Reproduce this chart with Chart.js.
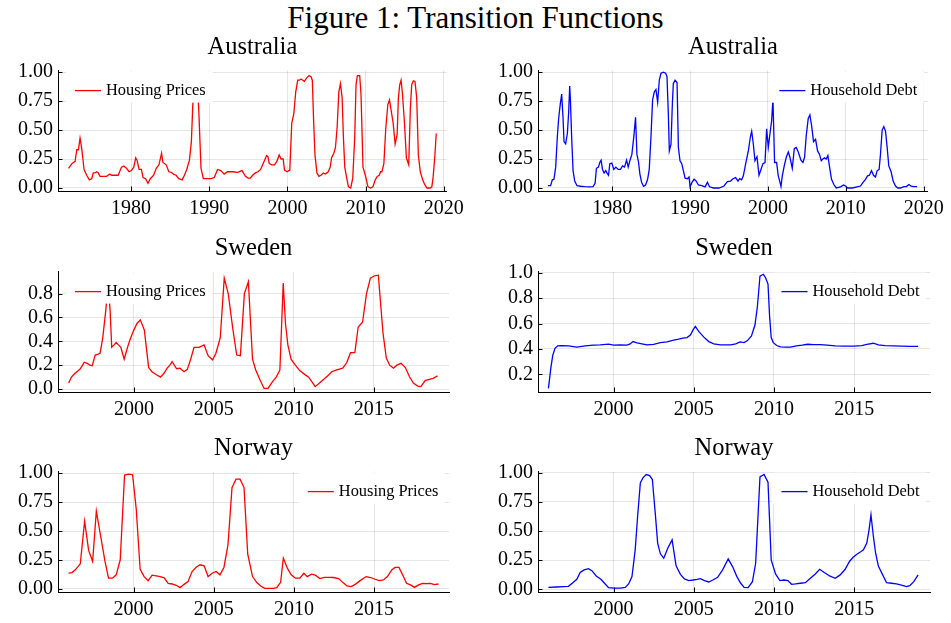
<!DOCTYPE html>
<html>
<head>
<meta charset="utf-8">
<title>Transition Functions</title>
<script src="https://cdn.jsdelivr.net/npm/chart.js@4.4.1/dist/chart.umd.min.js"></script>
<style>
	body { margin: 0; background: #fff; width: 951px; height: 623px; overflow: hidden; position: relative; }
	#fig-title { position: absolute; left: 0; top: 0; width: 951px; text-align: center; font: 31px/36px "Liberation Serif", "Times New Roman", serif; color: #000; }
	canvas { position: absolute; }
</style>
</head>
<body>
<div id="fig-title">Figure 1: Transition Functions</div>
<canvas id="au-house" width="470" height="200"></canvas>
<canvas id="au-debt" width="470" height="200"></canvas>
<canvas id="se-house" width="470" height="200"></canvas>
<canvas id="se-debt" width="470" height="200"></canvas>
<canvas id="no-house" width="470" height="200"></canvas>
<canvas id="no-debt" width="470" height="200"></canvas>
<script>
// Australia, housing prices
let auHouseYears = [1972.0, 1972.42, 1972.63, 1972.84, 1973.05, 1973.26, 1973.47, 1973.69, 1973.98, 1974.32, 1974.66, 1974.96,
	1975.17, 1975.38, 1975.59, 1975.81, 1976.02, 1976.44, 1976.86, 1977.29, 1977.5, 1977.92, 1978.35, 1978.77, 1979.07,
	1979.41, 1979.75, 1980.04, 1980.34, 1980.59, 1980.76, 1981.02, 1981.31, 1981.53, 1981.86, 1982.16, 1982.46, 1982.88,
	1983.22, 1983.56, 1983.9, 1984.07, 1984.49, 1984.83, 1985.13, 1985.42, 1985.76, 1986.1, 1986.53, 1986.82, 1987.12,
	1987.46, 1987.71, 1987.88, 1988.1, 1988.35, 1988.64, 1988.94, 1989.24, 1989.58, 1990.21, 1990.64, 1991.06, 1991.48,
	1991.91, 1992.33, 1992.97, 1993.6, 1994.19, 1994.62, 1994.96, 1995.25, 1995.55, 1995.89, 1996.23, 1996.57, 1996.82,
	1997.08, 1997.33, 1997.5, 1997.67, 1998.01, 1998.35, 1998.64, 1998.94, 1999.19, 1999.45, 1999.62, 1999.96, 2000.3,
	2000.55, 2000.81, 2001.06, 2001.31, 2001.53, 2001.74, 2001.95, 2002.16, 2002.46, 2002.75, 2003.01, 2003.18, 2003.35,
	2003.52, 2003.77, 2004.03, 2004.28, 2004.58, 2004.87, 2005.21, 2005.47, 2005.64, 2005.93, 2006.14, 2006.36, 2006.57,
	2006.78, 2006.99, 2007.16, 2007.33, 2007.58, 2007.8, 2008.09, 2008.35, 2008.6, 2008.77, 2008.94, 2009.24, 2009.41,
	2009.66, 2009.96, 2010.3, 2010.64, 2010.93, 2011.23, 2011.48, 2011.74, 2011.91, 2012.08, 2012.33, 2012.58, 2012.84,
	2013.05, 2013.26, 2013.52, 2013.77, 2014.03, 2014.19, 2014.36, 2014.53, 2014.7, 2014.96, 2015.21, 2015.51, 2015.72,
	2015.89, 2016.1, 2016.31, 2016.53, 2016.74, 2016.99, 2017.29, 2017.58, 2017.84, 2018.26, 2018.47, 2018.64, 2018.86, 2019.03];
let auHouseValues = [0.17, 0.21, 0.22, 0.23, 0.33, 0.33, 0.43, 0.34, 0.16, 0.11, 0.07, 0.08,
	0.13, 0.13, 0.14, 0.13, 0.10, 0.10, 0.10, 0.12, 0.11, 0.11, 0.11, 0.18, 0.19,
	0.17, 0.14, 0.15, 0.18, 0.26, 0.24, 0.16, 0.16, 0.09, 0.08, 0.04, 0.08, 0.11,
	0.17, 0.20, 0.30, 0.22, 0.20, 0.14, 0.135, 0.12, 0.11, 0.08, 0.07, 0.11, 0.16,
	0.24, 0.40, 0.70, 0.97, 0.98, 0.70, 0.17, 0.08, 0.08, 0.08, 0.09, 0.16, 0.15,
	0.12, 0.14, 0.14, 0.135, 0.15, 0.10, 0.085, 0.085, 0.11, 0.13, 0.14, 0.16, 0.20,
	0.24, 0.28, 0.27, 0.21, 0.20, 0.20, 0.23, 0.285, 0.25, 0.25, 0.155, 0.14, 0.155,
	0.56, 0.64, 0.83, 0.93, 0.93, 0.94, 0.93, 0.92, 0.95, 0.97, 0.96, 0.93, 0.57,
	0.285, 0.13, 0.10, 0.11, 0.13, 0.12, 0.14, 0.18, 0.26, 0.30, 0.35, 0.53, 0.83,
	0.90, 0.78, 0.43, 0.18, 0.085, 0.01, 0.00, 0.085, 0.43, 0.89, 0.97, 0.97, 0.80,
	0.18, 0.11, 0.01, 0.00, 0.01, 0.07, 0.10, 0.11, 0.14, 0.14, 0.21, 0.52, 0.72,
	0.76, 0.67, 0.56, 0.38, 0.46, 0.78, 0.89, 0.93, 0.82, 0.57, 0.26, 0.20, 0.69,
	0.89, 0.925, 0.92, 0.78, 0.285, 0.14, 0.07, 0.026, 0.00, 0.00, 0.01, 0.10, 0.285, 0.47];

// Australia, household debt
let auDebtYears = [1971.76, 1972.1, 1972.32, 1972.53, 1972.75, 1972.96, 1973.13, 1973.35, 1973.52, 1973.69, 1973.82, 1974.03,
	1974.25, 1974.42, 1974.55, 1974.64, 1974.81, 1974.98, 1975.19, 1975.49, 1975.92, 1976.48, 1977.04, 1977.55, 1977.81,
	1977.98, 1978.24, 1978.41, 1978.58, 1978.76, 1978.97, 1979.18, 1979.36, 1979.53, 1979.7, 1979.96, 1980.21, 1980.47,
	1980.77, 1981.07, 1981.33, 1981.59, 1981.85, 1982.06, 1982.27, 1982.53, 1982.79, 1983.0, 1983.18, 1983.39, 1983.56,
	1983.78, 1984.03, 1984.29, 1984.55, 1984.76, 1984.98, 1985.19, 1985.41, 1985.62, 1985.84, 1986.05, 1986.27, 1986.57,
	1986.87, 1987.04, 1987.21, 1987.34, 1987.55, 1987.73, 1987.85, 1988.07, 1988.33, 1988.5, 1988.71, 1988.93, 1989.14,
	1989.36, 1989.66, 1989.87, 1990.0, 1990.26, 1990.52, 1990.77, 1991.07, 1991.5, 1991.93, 1992.23, 1992.49, 1993.0,
	1993.72, 1994.36, 1994.79, 1995.21, 1995.51, 1995.85, 1996.15, 1996.37, 1996.62, 1996.84, 1997.14, 1997.48, 1997.74,
	1997.91, 1998.12, 1998.33, 1998.59, 1998.85, 1999.1, 1999.36, 1999.62, 1999.83, 2000.04, 2000.26, 2000.47, 2000.64,
	2000.85, 2001.11, 2001.32, 2001.54, 2001.67, 2001.84, 2002.09, 2002.35, 2002.61, 2002.82, 2003.12, 2003.38, 2003.63,
	2003.89, 2004.23, 2004.49, 2004.7, 2004.91, 2005.17, 2005.38, 2005.6, 2005.85, 2006.11, 2006.37, 2006.62, 2006.84,
	2007.05, 2007.26, 2007.48, 2007.69, 2007.91, 2008.16, 2008.46, 2008.76, 2009.32, 2009.7, 2009.96, 2010.21, 2010.81,
	2011.45, 2011.88, 2012.18, 2012.52, 2012.78, 2013.03, 2013.29, 2013.55, 2013.8, 2014.02, 2014.27, 2014.44, 2014.66,
	2014.87, 2015.09, 2015.3, 2015.51, 2015.81, 2016.07, 2016.37, 2016.67, 2017.01, 2017.44, 2017.78, 2018.08, 2018.38,
	2018.72, 2019.15];
let auDebtValues = [0.02, 0.02, 0.07, 0.075, 0.18, 0.44, 0.60, 0.73, 0.81, 0.61, 0.40, 0.38,
	0.47, 0.66, 0.88, 0.76, 0.42, 0.15, 0.06, 0.02, 0.015, 0.012, 0.01, 0.012, 0.04,
	0.17, 0.18, 0.22, 0.24, 0.16, 0.13, 0.15, 0.125, 0.11, 0.21, 0.215, 0.16, 0.18,
	0.16, 0.16, 0.19, 0.18, 0.24, 0.18, 0.235, 0.29, 0.45, 0.61, 0.29, 0.22, 0.12,
	0.05, 0.015, 0.026, 0.075, 0.16, 0.44, 0.76, 0.83, 0.85, 0.74, 0.93, 0.99, 1.00,
	0.99, 0.96, 0.64, 0.32, 0.375, 0.73, 0.90, 0.93, 0.91, 0.35, 0.235, 0.21, 0.15,
	0.085, 0.08, 0.095, 0.01, 0.05, 0.075, 0.06, 0.026, 0.02, 0.01, 0.05, 0.01, 0.00,
	0.00, 0.017, 0.055, 0.06, 0.08, 0.09, 0.06, 0.08, 0.07, 0.105, 0.21, 0.32, 0.44,
	0.49, 0.38, 0.235, 0.27, 0.11, 0.16, 0.21, 0.22, 0.51, 0.35, 0.47, 0.58, 0.765,
	0.22, 0.22, 0.105, 0.05, 0.012, 0.105, 0.19, 0.265, 0.31, 0.265, 0.17, 0.34, 0.35,
	0.31, 0.24, 0.22, 0.265, 0.45, 0.60, 0.63, 0.54, 0.40, 0.42, 0.32, 0.29, 0.235,
	0.25, 0.26, 0.25, 0.28, 0.18, 0.075, 0.03, 0.00, 0.01, 0.026, 0.017, 0.00, 0.00,
	0.01, 0.017, 0.047, 0.075, 0.105, 0.11, 0.15, 0.11, 0.095, 0.15, 0.16, 0.29, 0.50,
	0.53, 0.49, 0.35, 0.19, 0.14, 0.06, 0.017, 0.00, 0.00, 0.012, 0.012, 0.03, 0.017,
	0.012, 0.012];

// Sweden, housing prices
let seHouseYears = [1995.92, 1996.09, 1996.3, 1996.47, 1996.62, 1996.79, 1996.89, 1997.08, 1997.25, 1997.39, 1997.58, 1997.73,
	1997.88, 1998.05, 1998.24, 1998.38, 1998.51, 1998.61, 1998.76, 1998.89, 1999.03, 1999.18, 1999.39, 1999.6, 1999.77,
	1999.98, 2000.19, 2000.4, 2000.65, 2000.92, 2001.13, 2001.41, 2001.66, 2001.87, 2002.08, 2002.25, 2002.39, 2002.67,
	2002.88, 2003.13, 2003.34, 2003.55, 2003.76, 2004.08, 2004.39, 2004.64, 2004.92, 2005.13, 2005.4, 2005.65, 2005.9,
	2006.18, 2006.43, 2006.66, 2006.91, 2007.16, 2007.31, 2007.42, 2007.62, 2007.89, 2008.14, 2008.39, 2008.66, 2008.9,
	2009.13, 2009.34, 2009.48, 2009.63, 2009.83, 2010.1, 2010.37, 2010.66, 2010.93, 2011.14, 2011.34, 2011.61, 2011.86,
	2012.11, 2012.38, 2012.69, 2013.06, 2013.31, 2013.55, 2013.82, 2014.03, 2014.3, 2014.55, 2014.79, 2015.06, 2015.29,
	2015.58, 2015.79, 2016.0, 2016.24, 2016.45, 2016.71, 2016.98, 2017.23, 2017.48, 2017.75, 2017.95, 2018.22, 2018.47,
	2018.72, 2018.99];
let seHouseValues = [0.05, 0.10, 0.13, 0.15, 0.165, 0.20, 0.225, 0.215, 0.20, 0.195, 0.285, 0.29,
	0.30, 0.43, 0.66, 0.88, 0.66, 0.35, 0.37, 0.39, 0.37, 0.35, 0.25, 0.35, 0.42,
	0.49, 0.55, 0.58, 0.495, 0.18, 0.145, 0.12, 0.10, 0.13, 0.175, 0.20, 0.23, 0.17,
	0.175, 0.145, 0.165, 0.25, 0.35, 0.35, 0.37, 0.28, 0.245, 0.30, 0.43, 0.93, 0.80,
	0.51, 0.285, 0.28, 0.80, 0.90, 0.52, 0.25, 0.16, 0.075, 0.005, 0.005, 0.06, 0.10,
	0.16, 0.89, 0.55, 0.37, 0.25, 0.20, 0.155, 0.125, 0.10, 0.06, 0.02, 0.05, 0.08,
	0.11, 0.145, 0.16, 0.175, 0.22, 0.305, 0.305, 0.52, 0.56, 0.80, 0.93, 0.95, 0.955,
	0.47, 0.26, 0.20, 0.175, 0.20, 0.215, 0.18, 0.105, 0.05, 0.025, 0.02, 0.07, 0.08,
	0.09, 0.11];

// Sweden, household debt
let seDebtYears = [1995.94, 1996.1, 1996.21, 1996.35, 1996.52, 1996.77, 1997.19, 1997.71, 1998.23, 1998.75, 1999.17, 1999.69,
	2000.0, 2000.42, 2000.83, 2001.04, 2001.21, 2001.46, 2001.77, 2002.08, 2002.5, 2002.92, 2003.33, 2003.75, 2004.06,
	2004.33, 2004.58, 2004.79, 2004.96, 2005.1, 2005.31, 2005.63, 2005.94, 2006.25, 2006.67, 2007.31, 2007.62, 2007.89,
	2008.14, 2008.35, 2008.6, 2008.82, 2008.97, 2009.13, 2009.34, 2009.48, 2009.63, 2009.73, 2009.83, 2009.96, 2010.17,
	2010.41, 2010.72, 2011.03, 2011.4, 2011.76, 2012.11, 2012.48, 2012.89, 2013.31, 2013.82, 2014.34, 2014.96, 2015.48,
	2015.79, 2016.2, 2016.51, 2016.92, 2017.44, 2017.96, 2018.47, 2018.99];
let seDebtValues = [0.09, 0.26, 0.35, 0.405, 0.425, 0.427, 0.425, 0.414, 0.425, 0.43, 0.432, 0.438,
	0.43, 0.432, 0.43, 0.44, 0.458, 0.448, 0.44, 0.432, 0.437, 0.45, 0.455, 0.47, 0.477,
	0.485, 0.49, 0.51, 0.55, 0.577, 0.538, 0.493, 0.458, 0.44, 0.433, 0.432, 0.44, 0.455,
	0.45, 0.466, 0.503, 0.59, 0.736, 0.973, 0.987, 0.96, 0.91, 0.656, 0.49, 0.45, 0.427,
	0.416, 0.414, 0.414, 0.424, 0.43, 0.437, 0.435, 0.435, 0.43, 0.424, 0.422, 0.422, 0.427,
	0.437, 0.445, 0.432, 0.427, 0.424, 0.422, 0.42, 0.42];

// Norway, housing prices
let noHouseYears = [1995.95, 1996.16, 1996.37, 1996.68, 1996.95, 1997.2, 1997.45, 1997.68, 1997.97, 1998.22, 1998.44, 1998.69,
	1998.92, 1999.17, 1999.44, 1999.69, 1999.94, 2000.17, 2000.41, 2000.66, 2000.91, 2001.16, 2001.41, 2001.66, 2001.91,
	2002.16, 2002.41, 2002.66, 2002.9, 2003.15, 2003.4, 2003.65, 2003.9, 2004.15, 2004.4, 2004.65, 2004.9, 2005.15,
	2005.39, 2005.64, 2005.89, 2006.14, 2006.39, 2006.64, 2006.89, 2007.12, 2007.42, 2007.69, 2007.93, 2008.18, 2008.45,
	2008.72, 2008.93, 2009.17, 2009.34, 2009.59, 2009.83, 2010.1, 2010.37, 2010.62, 2010.83, 2011.1, 2011.34, 2011.61,
	2011.9, 2012.17, 2012.48, 2012.79, 2013.06, 2013.31, 2013.57, 2013.82, 2014.13, 2014.5, 2014.79, 2015.06, 2015.33,
	2015.58, 2015.83, 2016.1, 2016.3, 2016.55, 2016.78, 2017.02, 2017.27, 2017.52, 2017.77, 2018.02, 2018.26, 2018.51,
	2018.76, 2019.01];
let noHouseValues = [0.136, 0.142, 0.165, 0.217, 0.585, 0.333, 0.238, 0.672, 0.44, 0.238, 0.093, 0.093,
	0.122, 0.252, 0.983, 0.991, 0.986, 0.687, 0.171, 0.107, 0.072, 0.119, 0.113, 0.107, 0.096,
	0.049, 0.043, 0.032, 0.012, 0.04, 0.064, 0.151, 0.188, 0.209, 0.20, 0.107, 0.136, 0.151,
	0.122, 0.188, 0.383, 0.875, 0.948, 0.948, 0.875, 0.30, 0.107, 0.055, 0.026, 0.006, 0.006,
	0.006, 0.012, 0.058, 0.267, 0.18, 0.122, 0.093, 0.093, 0.136, 0.107, 0.128, 0.119, 0.09,
	0.10, 0.10, 0.099, 0.09, 0.055, 0.026, 0.02, 0.04, 0.072, 0.107, 0.099, 0.084, 0.072,
	0.078, 0.107, 0.165, 0.186, 0.186, 0.122, 0.049, 0.035, 0.014, 0.035, 0.049, 0.046, 0.049,
	0.038, 0.043];

// Norway, household debt
let noDebtYears = [1995.94, 1996.46, 1996.88, 1997.19, 1997.46, 1997.71, 1997.92, 1998.17, 1998.44, 1998.65, 1998.92, 1999.21,
	1999.48, 1999.69, 2000.0, 2000.42, 2000.73, 2000.94, 2001.15, 2001.35, 2001.5, 2001.67, 2001.83, 2002.04, 2002.25,
	2002.42, 2002.6, 2002.75, 2002.92, 2003.13, 2003.38, 2003.65, 2003.9, 2004.17, 2004.42, 2004.69, 2004.96, 2005.21,
	2005.42, 2005.67, 2005.94, 2006.19, 2006.49, 2006.8, 2007.15, 2007.42, 2007.69, 2007.93, 2008.14, 2008.39, 2008.66,
	2008.86, 2009.13, 2009.38, 2009.63, 2009.83, 2010.1, 2010.37, 2010.62, 2010.87, 2011.1, 2011.34, 2011.65, 2011.96,
	2012.27, 2012.58, 2012.85, 2013.14, 2013.47, 2013.82, 2014.13, 2014.44, 2014.71, 2014.92, 2015.17, 2015.41, 2015.58,
	2015.79, 2015.93, 2016.05, 2016.2, 2016.34, 2016.51, 2016.78, 2017.02, 2017.33, 2017.64, 2017.95, 2018.26, 2018.47,
	2018.72, 2018.99];
let noDebtValues = [0.017, 0.02, 0.023, 0.026, 0.057, 0.086, 0.144, 0.167, 0.178, 0.16, 0.115, 0.086,
	0.046, 0.014, 0.011, 0.011, 0.017, 0.046, 0.109, 0.339, 0.626, 0.914, 0.957, 0.986, 0.977,
	0.943, 0.655, 0.397, 0.305, 0.267, 0.353, 0.425, 0.201, 0.129, 0.089, 0.075, 0.08, 0.086,
	0.092, 0.075, 0.063, 0.08, 0.103, 0.167, 0.261, 0.195, 0.109, 0.052, 0.017, 0.014, 0.066,
	0.224, 0.966, 0.986, 0.92, 0.253, 0.132, 0.075, 0.08, 0.075, 0.043, 0.046, 0.052, 0.057,
	0.095, 0.132, 0.172, 0.144, 0.115, 0.095, 0.124, 0.172, 0.239, 0.273, 0.302, 0.322, 0.339,
	0.397, 0.511, 0.641, 0.454, 0.31, 0.201, 0.124, 0.057, 0.052, 0.046, 0.037, 0.023, 0.032,
	0.066, 0.124];

// tick positions and labels
let decadeTicks = [1980, 1990, 2000, 2010, 2020];
let fiveYearTicks = [2000, 2005, 2010, 2015];
let quarterTicks = [0, 0.25, 0.5, 0.75, 1];
let quarterLabels = ['0.00', '0.25', '0.50', '0.75', '1.00'];
let fifthTicks = [0, 0.2, 0.4, 0.6, 0.8];
let fifthLabels = ['0.0', '0.2', '0.4', '0.6', '0.8'];
let upperFifthTicks = [0.2, 0.4, 0.6, 0.8, 1];
let upperFifthLabels = ['0.2', '0.4', '0.6', '0.8', '1.0'];

const serif = '"Liberation Serif", "Times New Roman", serif';
const red = '#ff0000';
const blue = '#0000ff';

let panels = [
	{ id: 'au-house', left: 0, top: 30, rightPad: 21, title: 'Australia', label: 'Housing Prices', color: red,
		years: auHouseYears, values: auHouseValues, xRange: [1970.65, 2020.37], yRange: [-0.026, 1.013],
		xTicks: decadeTicks, yTicks: quarterTicks, yLabels: quarterLabels, legendSide: 'left' },
	{ id: 'au-debt', left: 480, top: 30, rightPad: 20, title: 'Australia', label: 'Household Debt', color: blue,
		years: auDebtYears, values: auDebtValues, xRange: [1970.48, 2020.52], yRange: [-0.026, 1.013],
		xTicks: decadeTicks, yTicks: quarterTicks, yLabels: quarterLabels, legendSide: 'right' },
	{ id: 'se-house', left: 0, top: 231, rightPad: 21, title: 'Sweden', label: 'Housing Prices', color: red,
		years: seHouseYears, values: seHouseValues, xRange: [1995.25, 2019.71], yRange: [-0.025, 0.985],
		xTicks: fiveYearTicks, yTicks: fifthTicks, yLabels: fifthLabels, legendSide: 'left' },
	{ id: 'se-debt', left: 480, top: 231, rightPad: 20, title: 'Sweden', label: 'Household Debt', color: blue,
		years: seDebtYears, values: seDebtValues, xRange: [1995.29, 2019.73], yRange: [0.062, 1.008],
		xTicks: fiveYearTicks, yTicks: upperFifthTicks, yLabels: upperFifthLabels, legendSide: 'right' },
	{ id: 'no-house', left: 0, top: 431, rightPad: 21, title: 'Norway', label: 'Housing Prices', color: red,
		years: noHouseYears, values: noHouseValues, xRange: [1995.29, 2019.67], yRange: [-0.026, 1.013],
		xTicks: fiveYearTicks, yTicks: quarterTicks, yLabels: quarterLabels, legendSide: 'right' },
	{ id: 'no-debt', left: 480, top: 431, rightPad: 20, title: 'Norway', label: 'Household Debt', color: blue,
		years: noDebtYears, values: noDebtValues, xRange: [1995.29, 2019.73], yRange: [-0.023, 1.011],
		xTicks: fiveYearTicks, yTicks: quarterTicks, yLabels: quarterLabels, legendSide: 'right' }
];

// short tick marks pointing into the plot area
const innerTicks = {
	id: 'innerTicks',
	beforeDatasetsDraw(chart) {
		const { ctx, chartArea, scales } = chart;
		ctx.save();
		ctx.strokeStyle = '#000';
		ctx.lineWidth = 1;
		ctx.beginPath();
		scales.x.ticks.forEach((t) => {
			let px = Math.round(scales.x.getPixelForValue(t.value)) + 0.5;
			ctx.moveTo(px, chartArea.bottom);
			ctx.lineTo(px, chartArea.bottom - 4.5);
		});
		scales.y.ticks.forEach((t) => {
			let py = Math.round(scales.y.getPixelForValue(t.value)) + 0.5;
			ctx.moveTo(chartArea.left, py);
			ctx.lineTo(chartArea.left + 4.5, py);
		});
		ctx.stroke();
		ctx.restore();
	}
};

// legend box drawn inside the plot area, over the line
const insideLegend = {
	id: 'insideLegend',
	afterDatasetsDraw(chart, args, opts) {
		const { ctx, chartArea } = chart;
		let ds = chart.data.datasets[0];
		ctx.save();
		ctx.font = '16.4px ' + serif;
		let w = ctx.measureText(ds.label).width;
		let boxL, boxR, lineStart;
		if (opts.side === 'left') {
			boxL = chartArea.left + 8;
			lineStart = chartArea.left + 17;
			boxR = lineStart + 31 + w + 7;
		} else {
			boxR = chartArea.right - 4;
			lineStart = chartArea.right - 10.5 - w - 31;
			boxL = lineStart - 9;
		}
		let cy = chartArea.top + 20;
		ctx.fillStyle = '#fff';
		ctx.fillRect(boxL, chartArea.top + 1, boxR - boxL, 31);
		ctx.strokeStyle = ds.borderColor;
		ctx.lineWidth = ds.borderWidth;
		ctx.beginPath();
		ctx.moveTo(lineStart, cy);
		ctx.lineTo(lineStart + 26, cy);
		ctx.stroke();
		ctx.fillStyle = '#000';
		ctx.textAlign = 'left';
		ctx.textBaseline = 'middle';
		ctx.fillText(ds.label, lineStart + 31, cy);
		ctx.restore();
	}
};

function makeChart(p) {
	let canvas = document.getElementById(p.id);
	canvas.style.left = p.left + 'px';
	canvas.style.top = p.top + 'px';

	return new Chart(canvas, {
		type: 'line',
		data: {
			datasets: [{
				label: p.label,
				data: p.years.map((x, i) => ({ x: x, y: p.values[i] })),
				borderColor: p.color,
				borderWidth: 1.3,
				pointRadius: 0,
				tension: 0,
				fill: false
			}]
		},
		options: {
			responsive: false,
			animation: false,
			devicePixelRatio: 1,
			layout: { padding: { top: 0, right: p.rightPad, bottom: 0, left: 0 } },
			plugins: {
				legend: { display: false },
				tooltip: { enabled: false },
				title: {
					display: true,
					fullSize: false,
					text: p.title,
					color: '#000',
					font: { family: serif, size: 24.5, weight: 'normal', lineHeight: 1.2 },
					padding: { top: 3, bottom: 8.2 }
				},
				insideLegend: { side: p.legendSide }
			},
			scales: {
				x: {
					type: 'linear',
					min: p.xRange[0],
					max: p.xRange[1],
					afterBuildTicks: (scale) => { scale.ticks = p.xTicks.map(v => ({ value: v })); },
					afterFit: (scale) => { scale.height = 39; },
					grid: { color: 'rgba(0,0,0,0.1)', drawTicks: false },
					border: { color: '#000', width: 1 },
					ticks: {
						color: '#000',
						font: { family: serif, size: 20 },
						padding: 6,
						maxRotation: 0,
						autoSkip: false,
						callback: (v) => String(v)
					}
				},
				y: {
					type: 'linear',
					min: p.yRange[0],
					max: p.yRange[1],
					afterBuildTicks: (scale) => { scale.ticks = p.yTicks.map(v => ({ value: v })); },
					afterFit: (scale) => { scale.width = 58; },
					grid: { color: 'rgba(0,0,0,0.1)', drawTicks: false },
					border: { color: '#000', width: 1 },
					ticks: {
						color: '#000',
						font: { family: serif, size: 20 },
						padding: 5,
						autoSkip: false,
						callback: (v) => p.yLabels[p.yTicks.indexOf(v)]
					}
				}
			}
		},
		plugins: [innerTicks, insideLegend]
	});
}

panels.forEach(makeChart);
</script>
</body>
</html>
